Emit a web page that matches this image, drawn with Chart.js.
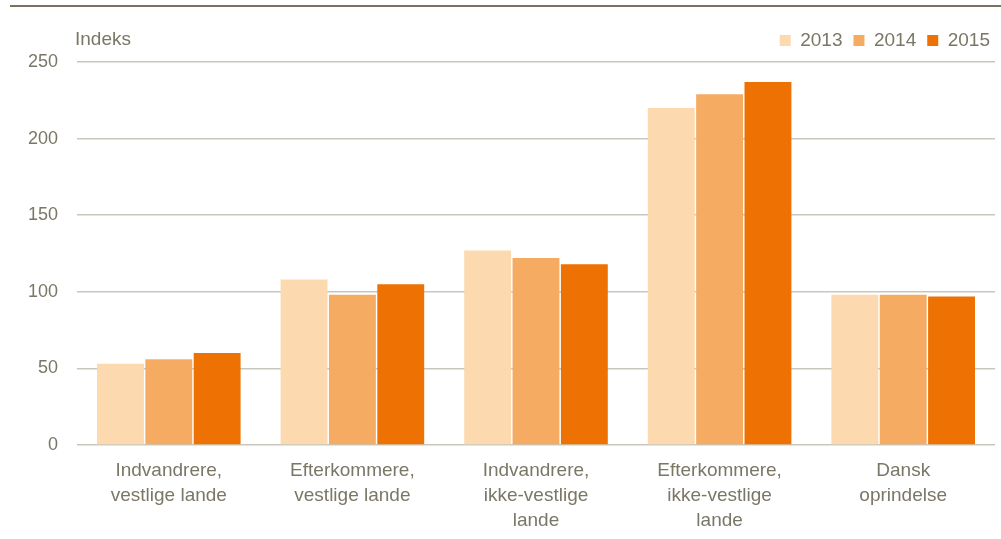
<!DOCTYPE html>
<html>
<head>
<meta charset="utf-8">
<script src="https://cdn.jsdelivr.net/npm/chart.js@4/dist/chart.umd.min.js"></script>
<style>
  html, body { margin: 0; padding: 0; background: #fff; }
  #wrap { position: relative; width: 1001px; height: 539px; }
  #rule { position: absolute; top: 5px; left: 10px; right: 0; height: 2px; background: #77735f; }
</style>
</head>
<body>
<div id="wrap">
  <div id="rule"></div>
  <canvas id="chart" width="1001" height="539"></canvas>
</div>
<script>
const categories = [
    ["Indvandrere,", "vestlige lande"],
    ["Efterkommere,", "vestlige lande"],
    ["Indvandrere,", "ikke-vestlige", "lande"],
    ["Efterkommere,", "ikke-vestlige", "lande"],
    ["Dansk", "oprindelse"]
];
const years = ["2013", "2014", "2015"];
const values2013 = [53, 108, 127, 220, 98];
const values2014 = [56, 98, 122, 229, 98];
const values2015 = [60, 105, 118, 237, 97];
const yTicks = [0, 50, 100, 150, 200, 250];
const yLabel = "Indeks";

const textColor = "#7a7766";
const gridColor = "#c9c7bc";
const barColors = ["#fcd9af", "#f6ab63", "#ee7203"];
const fontFamily = "'Liberation Sans', Arial, sans-serif";

Chart.defaults.font.family = fontFamily;
Chart.defaults.color = textColor;

// legend height fix + "Indeks" label
const layoutTweaks = {
    id: 'layoutTweaks',
    afterInit(chart) {
        const legend = chart.legend;
        const origFit = legend.fit;
        legend.fit = function () {
            origFit.call(this);
            this.height = 42;
        };
    },
    afterLayout(chart) {
        chart.legend.right = chart.width;
    },
    afterDraw(chart) {
        const ctx = chart.ctx;
        ctx.save();
        ctx.font = "19px " + fontFamily;
        ctx.fillStyle = textColor;
        ctx.textAlign = "left";
        ctx.textBaseline = "middle";
        ctx.fillText(yLabel, 75, 40);
        ctx.restore();
    }
};

const allValues = [values2013, values2014, values2015];
const datasets = years.map((y, i) => ({
    label: y,
    data: allValues[i],
    backgroundColor: barColors[i],
    borderWidth: 0,
    barPercentage: 0.97,
    categoryPercentage: 0.79
}));

new Chart(document.getElementById('chart'), {
    type: 'bar',
    data: { labels: categories, datasets: datasets },
    plugins: [layoutTweaks],
    options: {
        responsive: false,
        animation: false,
        layout: { padding: { top: 20, right: 6, left: 0, bottom: 0 } },
        plugins: {
            tooltip: { enabled: false },
            legend: {
                position: 'top',
                align: 'end',
                labels: {
                    boxWidth: 11,
                    boxHeight: 11,
                    padding: 11,
                    color: textColor,
                    font: { size: 19 }
                }
            }
        },
        scales: {
            x: {
                grid: { display: false, drawTicks: false },
                border: { display: false },
                ticks: { padding: 13, font: { size: 19, lineHeight: 1.316 }, color: textColor, maxRotation: 0 },
                afterFit(scale) { scale.height = 94; }
            },
            y: {
                min: 0,
                max: 250,
                afterBuildTicks(scale) { scale.ticks = yTicks.map(v => ({ value: v })); },
                grid: { color: gridColor, lineWidth: 1.5, drawTicks: false },
                border: { display: false },
                ticks: { padding: 19, font: { size: 18 }, color: textColor },
                afterFit(scale) { scale.width = 77; }
            }
        }
    }
});
</script>
</body>
</html>
